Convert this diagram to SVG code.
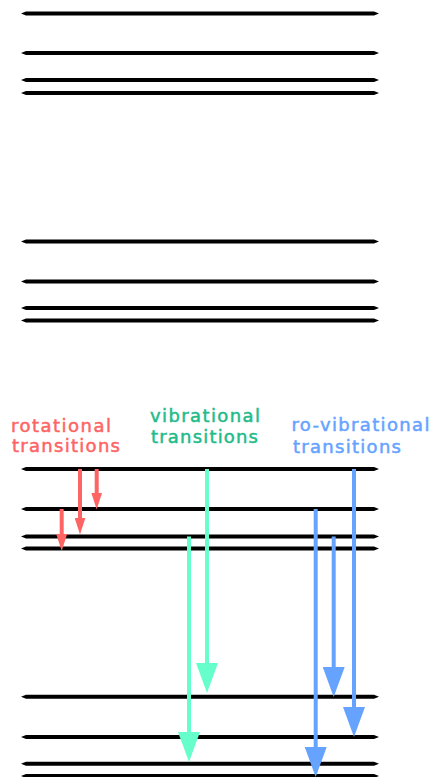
<svg xmlns="http://www.w3.org/2000/svg" width="440" height="777" viewBox="0 0 440 777">
  <style>
    .level { fill: #000; }
    .lbl { font-family: "DejaVu Sans", "Liberation Sans", sans-serif; font-size: 18px; stroke-width: 0.5; }
    .rot { fill: #ff6464; stroke: #ff6464; }
    .vib { fill: #1fbb8a; stroke: #1fbb8a; }
    .rovib { fill: #66a3ff; stroke: #66a3ff; }
    .shaft { stroke-width: 4; fill: none; stroke-linecap: butt; }
  </style>
  <defs>
    <!-- energy level: thin bar with tapered ends -->
    <path id="lvl" d="M21,0 L26,-2 L374,-2 L379,0 L374,2 L26,2 Z"/>
    <marker id="headRed" markerUnits="userSpaceOnUse" markerWidth="17" markerHeight="11" refX="8.5" refY="5.5" orient="auto">
      <path d="M0,0 L17,5.5 L0,11 Z" fill="#ff6464"/>
    </marker>
    <marker id="headGreen" markerUnits="userSpaceOnUse" markerWidth="30" markerHeight="22" refX="15" refY="11" orient="auto">
      <path d="M0,0 L30,11 L0,22 Z" fill="#66ffcc"/>
    </marker>
    <marker id="headBlue" markerUnits="userSpaceOnUse" markerWidth="30" markerHeight="22" refX="15" refY="11" orient="auto">
      <path d="M0,0 L30,11 L0,22 Z" fill="#66a3ff"/>
    </marker>
  </defs>

  <rect width="440" height="777" fill="#fff"/>

  <!-- energy levels -->
  <g id="levels" class="level">
    <g id="level-a"><use href="#lvl" y="13.5"/><use href="#lvl" y="53"/><use href="#lvl" y="80"/><use href="#lvl" y="93"/></g>
    <g id="level-b"><use href="#lvl" y="241.5"/><use href="#lvl" y="281.5"/><use href="#lvl" y="308"/><use href="#lvl" y="320.5"/></g>
    <g id="level-c"><use href="#lvl" y="469"/><use href="#lvl" y="509"/><use href="#lvl" y="536.5"/><use href="#lvl" y="548.5"/></g>
    <g id="level-d"><use href="#lvl" y="696.7"/><use href="#lvl" y="737"/><use href="#lvl" y="763.7"/><use href="#lvl" y="776"/></g>
  </g>

  <!-- labels -->
  <g id="label-rotational" class="lbl rot">
    <text x="11" y="432" textLength="100" lengthAdjust="spacing">rotational</text>
    <text x="12" y="452" textLength="108" lengthAdjust="spacing">transitions</text>
  </g>
  <g id="label-vibrational" class="lbl vib">
    <text x="150" y="421.5" textLength="110" lengthAdjust="spacing">vibrational</text>
    <text x="151" y="442.5" textLength="107" lengthAdjust="spacing">transitions</text>
  </g>
  <g id="label-rovibrational" class="lbl rovib">
    <text x="291.5" y="431" textLength="138" lengthAdjust="spacing">ro-vibrational</text>
    <text x="293" y="453" textLength="108" lengthAdjust="spacing">transitions</text>
  </g>

  <!-- transitions -->
  <g id="connectors">
    <line class="shaft" stroke="#ff6464" x1="96.7" y1="469" x2="96.7" y2="501" marker-end="url(#headRed)"/>
    <line class="shaft" stroke="#ff6464" x1="80" y1="469" x2="80" y2="526" marker-end="url(#headRed)"/>
    <line class="shaft" stroke="#ff6464" x1="61.7" y1="509" x2="61.7" y2="542.5" marker-end="url(#headRed)"/>

    <line class="shaft" stroke="#66ffcc" x1="207" y1="469" x2="207" y2="678" marker-end="url(#headGreen)"/>
    <line class="shaft" stroke="#66ffcc" x1="189" y1="536.5" x2="189" y2="747" marker-end="url(#headGreen)"/>

    <line class="shaft" stroke="#66a3ff" x1="354" y1="469" x2="354" y2="722" marker-end="url(#headBlue)"/>
    <line class="shaft" stroke="#66a3ff" x1="333.7" y1="536.5" x2="333.7" y2="682" marker-end="url(#headBlue)"/>
    <line class="shaft" stroke="#66a3ff" x1="315.7" y1="509" x2="315.7" y2="762" marker-end="url(#headBlue)"/>
  </g>
</svg>
